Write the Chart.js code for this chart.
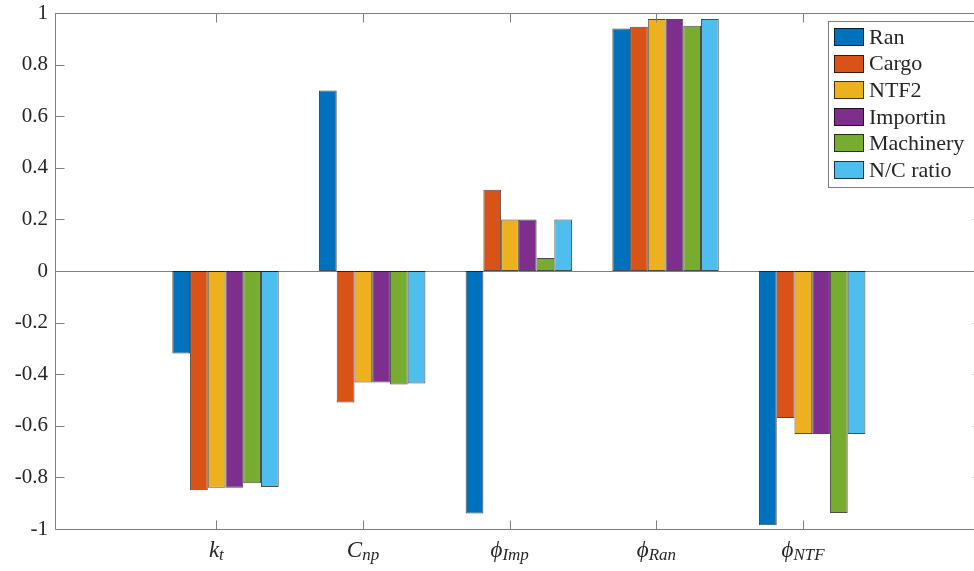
<!DOCTYPE html>
<html>
<head>
<meta charset="utf-8">
<script src="https://cdn.jsdelivr.net/npm/chart.js@4"></script>
<style>
  html, body { margin: 0; padding: 0; background: #fff; overflow: hidden; }
  canvas { display: block; }
</style>
</head>
<body>
<canvas id="myChart" width="990" height="571"></canvas>
<script>
// categories: main symbol + subscript
const catMain = ['k', 'C', 'ϕ', 'ϕ', 'ϕ'];
const catSub = ['t', 'np', 'Imp', 'Ran', 'NTF'];
const xTickVals = [1, 2, 3, 4, 5];
const yTicks = [-1, -0.8, -0.6, -0.4, -0.2, 0, 0.2, 0.4, 0.6, 0.8, 1];

const seriesNames = ['Ran', 'Cargo', 'NTF2', 'Importin', 'Machinery', 'N/C ratio'];
const ran = [-0.32, 0.70, -0.94, 0.94, -0.985];
const cargo = [-0.85, -0.51, 0.315, 0.947, -0.57];
const ntf2 = [-0.84, -0.432, 0.20, 0.977, -0.632];
const importin = [-0.84, -0.432, 0.20, 0.977, -0.632];
const machinery = [-0.823, -0.44, 0.05, 0.951, -0.938];
const ncRatio = [-0.837, -0.436, 0.20, 0.977, -0.632];

const colors = ['#0072BD', '#D95319', '#EDB120', '#7E2F8E', '#77AC30', '#4DBEEE'];
const allSeries = [ran, cargo, ntf2, importin, machinery, ncRatio];

const serif = '"Liberation Serif", "DejaVu Serif", serif';
const textColor = '#262626';
const axisColor = '#808080';
const edgeColor = 'rgba(0,0,0,0.7)';
const groupShift = 0.0625; // bars sit a little right of the ticks

function noPad(s) {
  s.paddingTop = 0; s.paddingBottom = 0; s.paddingLeft = 0; s.paddingRight = 0;
}

document.addEventListener("DOMContentLoaded", function () {
  const ctx = document.getElementById('myChart').getContext('2d');

  // frame, inward ticks, baseline, x labels and legend
  const matlabLook = {
    id: 'matlabLook',
    beforeDatasetsDraw(chart) {
      const { ctx, chartArea: a, scales: { y } } = chart;
      const y0 = Math.round(y.getPixelForValue(0)) + 0.5;
      ctx.save();
      ctx.strokeStyle = axisColor;
      ctx.lineWidth = 1;
      ctx.beginPath();
      ctx.moveTo(a.left, y0);
      ctx.lineTo(a.right, y0);
      ctx.stroke();
      ctx.restore();
    },
    afterDatasetsDraw(chart) {
      const { ctx, chartArea: a, scales: { x, y } } = chart;
      const L = Math.round(a.left) + 0.5, R = Math.round(a.right) + 0.5;
      const T = Math.round(a.top) + 0.5, B = Math.round(a.bottom) + 0.5;
      const tl = 9;
      ctx.save();
      ctx.strokeStyle = axisColor;
      ctx.lineWidth = 1;
      ctx.beginPath();
      ctx.rect(L, T, R - L, B - T);
      yTicks.forEach(v => {
        const py = Math.round(y.getPixelForValue(v)) + 0.5;
        ctx.moveTo(L, py); ctx.lineTo(L + tl, py);
        ctx.moveTo(R, py); ctx.lineTo(R - tl, py);
      });
      xTickVals.forEach(v => {
        const px = Math.round(x.getPixelForValue(v)) + 0.5;
        ctx.moveTo(px, B); ctx.lineTo(px, B - tl);
        ctx.moveTo(px, T); ctx.lineTo(px, T + tl);
      });
      ctx.stroke();
      ctx.restore();
    },
    afterDraw(chart) {
      const { ctx, scales: { x } } = chart;
      ctx.save();
      ctx.fillStyle = textColor;
      ctx.textBaseline = 'alphabetic';
      ctx.textAlign = 'left';
      // x tick labels with subscripts
      const mainFont = 'italic 23px ' + serif;
      const subFont = 'italic 17px ' + serif;
      xTickVals.forEach((v, i) => {
        ctx.font = mainFont;
        const w1 = ctx.measureText(catMain[i]).width;
        ctx.font = subFont;
        const w2 = ctx.measureText(catSub[i]).width;
        const px = x.getPixelForValue(v) - (w1 + w2) / 2;
        ctx.font = mainFont;
        ctx.fillText(catMain[i], px, 557);
        ctx.font = subFont;
        ctx.fillText(catSub[i], px + w1, 560);
      });
      // legend box
      const bx = 828.5, by = 21.5, bw = 160, bh = 166;
      ctx.fillStyle = '#ffffff';
      ctx.fillRect(bx, by, bw, bh);
      ctx.strokeStyle = axisColor;
      ctx.lineWidth = 1;
      ctx.strokeRect(bx, by, bw, bh);
      ctx.font = '22px ' + serif;
      ctx.textBaseline = 'middle';
      chart.data.datasets.forEach((ds, i) => {
        const cy = 37 + i * 26.6;
        ctx.fillStyle = ds.backgroundColor;
        ctx.fillRect(834, Math.round(cy - 9), 30, 18);
        ctx.strokeStyle = edgeColor;
        ctx.strokeRect(834.5, Math.round(cy - 9) + 0.5, 29, 17);
        ctx.fillStyle = textColor;
        ctx.fillText(ds.label, 869, cy + 1);
      });
      ctx.restore();
    }
  };

  new Chart(ctx, {
    type: 'bar',
    data: {
      datasets: seriesNames.map((name, i) => ({
        label: name,
        data: allSeries[i].map((v, j) => ({ x: xTickVals[j] + groupShift, y: v })),
        backgroundColor: colors[i],
        borderColor: edgeColor,
        borderWidth: 1,
        borderSkipped: false,
        categoryPercentage: 0.7255,
        barPercentage: 1
      }))
    },
    options: {
      responsive: false,
      animation: false,
      layout: { padding: { top: 13, right: 8, left: 0, bottom: 0 } },
      plugins: {
        legend: { display: false },
        tooltip: { enabled: false }
      },
      scales: {
        x: {
          type: 'linear',
          offset: false,
          min: -0.1,
          max: 6.22,
          afterBuildTicks: axis => { axis.ticks = xTickVals.map(v => ({ value: v })); },
          ticks: { display: false },
          grid: { display: false, drawTicks: false, offset: false },
          border: { display: false },
          afterFit: s => { s.height = 42; noPad(s); }
        },
        y: {
          min: -1,
          max: 1,
          afterBuildTicks: axis => { axis.ticks = yTicks.map(v => ({ value: v })); },
          ticks: {
            font: { family: serif, size: 21 },
            color: textColor,
            padding: 7,
            callback: v => String(Math.round(v * 10) / 10)
          },
          grid: { display: false, drawTicks: false },
          border: { display: false },
          afterFit: s => { s.width = 55; noPad(s); }
        }
      }
    },
    plugins: [matlabLook]
  });
});
</script>
</body>
</html>
